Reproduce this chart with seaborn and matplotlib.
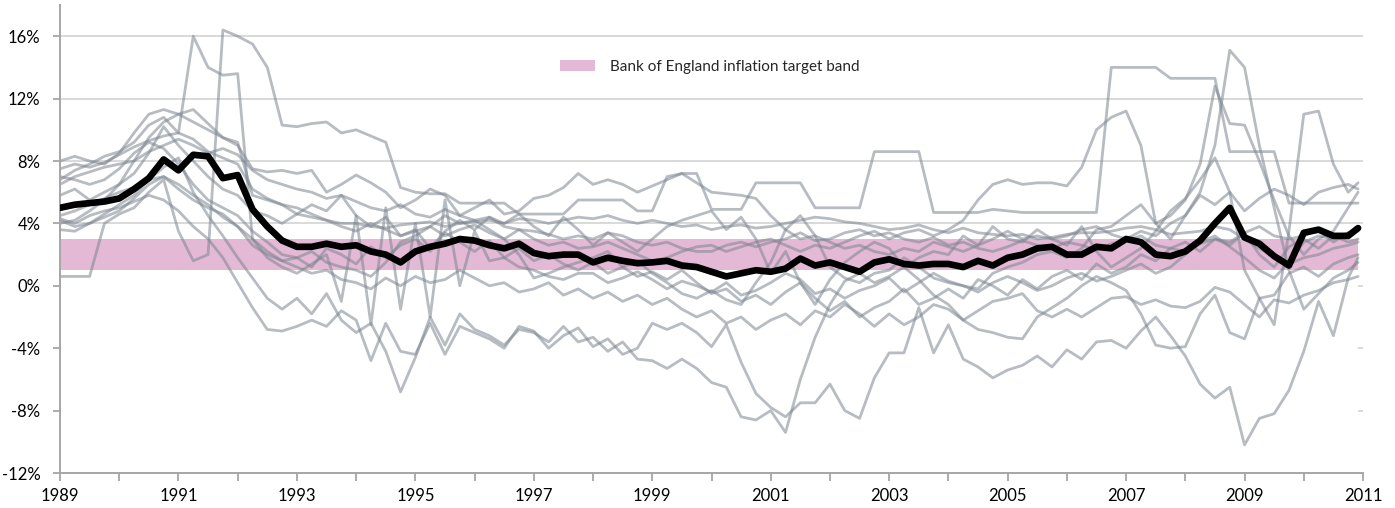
import numpy as np
import pandas as pd
import matplotlib
matplotlib.use("Agg")
import matplotlib.pyplot as plt
import seaborn as sns
from matplotlib.patches import Patch
from matplotlib.ticker import FuncFormatter

# ---- time axis: quarterly observations Jan 1989 .. Oct 2010, plus Dec 2010
dates = pd.date_range("1989-01-01", "2010-10-01", freq="QS").append(pd.DatetimeIndex(["2010-12-01"]))
years = np.asarray(dates.year + (dates.month - 1) / 12.0, dtype=float)

# ---- headline CPI (black line), annual % change
cpi = [5.0, 5.2, 5.3, 5.4, 5.6, 6.2, 6.9, 8.1, 7.4, 8.4, 8.3, 6.9, 7.1, 4.9, 3.8, 2.9,
       2.5, 2.5, 2.7, 2.5, 2.6, 2.2, 2.0, 1.5, 2.2, 2.5, 2.7, 3.0, 2.9, 2.6, 2.4, 2.7,
       2.1, 1.9, 2.0, 2.0, 1.5, 1.8, 1.6, 1.45, 1.5, 1.6, 1.3, 1.2, 0.9, 0.6, 0.8, 1.0,
       0.9, 1.1, 1.75, 1.3, 1.5, 1.2, 0.9, 1.5, 1.7, 1.4, 1.3, 1.4, 1.4, 1.2, 1.6, 1.3,
       1.8, 2.0, 2.4, 2.5, 2.0, 2.0, 2.5, 2.4, 3.0, 2.8, 2.0, 1.9, 2.2, 2.9, 4.0, 5.0,
       3.1, 2.7, 1.9, 1.3, 3.4, 3.6, 3.2, 3.2, 3.7]

# ---- CPI components (grey lines)
education = [0.6, 0.6, 0.6, 4.0, 4.6, 5.0, 6.0, 6.8, 3.5, 1.6, 2.0, 16.4, 16.0, 15.5, 14.0, 10.3,
             10.2, 10.4, 10.5, 9.8, 10.0, 9.6, 9.2, 6.3, 6.0, 5.9, 5.9, 5.3, 5.3, 5.3, 5.3, 4.6,
             4.6, 4.6, 4.6, 5.5, 5.5, 5.5, 5.5, 4.8, 4.8, 7.0, 7.2, 7.2, 4.9, 4.9, 4.9, 6.6,
             6.6, 6.6, 6.6, 5.0, 5.0, 5.0, 5.0, 8.6, 8.6, 8.6, 8.6, 4.7, 4.7, 4.7, 4.7, 4.9,
             4.8, 4.7, 4.7, 4.7, 4.7, 4.7, 4.7, 14.0, 14.0, 14.0, 14.0, 13.3, 13.3, 13.3, 13.3, 8.6,
             8.6, 8.6, 8.6, 5.3, 5.3, 5.3, 5.3, 5.3, 5.3]
misc = [6.8, 7.4, 7.8, 8.3, 8.6, 9.2, 10.3, 10.8, 9.8, 16.0, 14.0, 13.5, 13.6, 3.0, 1.8, 1.2,
        0.8, 1.4, 2.0, -1.0, 4.5, -2.5, 5.0, -1.5, 4.0, -2.0, 5.5, 0.0, 3.5, 1.6, 1.8, 1.2,
        1.0, 0.6, 0.4, 0.8, 0.8, 0.2, 0.5, 0.9, 0.4, -0.2, 0.3, 0.0, -0.4, 0.2, -0.6, -0.3,
        0.2, 0.8, 0.4, -0.5, -0.2, -0.8, -0.3, 0.0, 0.5, -0.4, 0.2, 0.8, 0.3, 0.0, -0.4, 0.2,
        0.6, 0.2, -0.3, 0.0, 0.5, 0.8, 0.3, 0.6, 1.0, 1.4, 0.8, 1.2, 2.0, 2.8, 3.2, 2.5,
        1.8, 1.0, 0.5, 1.5, 2.8, 3.2, 3.0, 3.4, 3.6]
alcohol_tobacco = [4.0, 4.2, 4.8, 5.5, 6.5, 8.0, 9.5, 10.5, 11.0, 10.5, 10.0, 9.5, 9.0, 7.5, 7.3, 7.4,
                   7.2, 7.4, 6.0, 6.5, 7.1, 6.6, 6.0, 5.0, 5.5, 6.2, 5.8, 4.5, 5.0, 5.5, 4.6, 4.8,
                   5.6, 5.8, 6.3, 7.2, 6.5, 6.8, 6.5, 6.0, 6.4, 6.8, 7.2, 6.6, 6.0, 5.9, 5.8, 5.6,
                   4.5, 3.6, 3.0, 3.2, 2.8, 2.4, 2.6, 2.2, 2.0, 2.4, 2.2, 2.8, 2.5, 2.2, 2.6, 3.0,
                   3.5, 3.0, 3.2, 3.0, 3.2, 3.6, 3.8, 3.3, 3.0, 3.5, 3.2, 4.0, 4.5, 5.8, 5.2, 6.0,
                   4.8, 5.6, 6.2, 5.8, 5.2, 6.0, 6.3, 6.5, 6.2]
food = [7.0, 6.8, 6.5, 6.8, 7.5, 8.5, 9.2, 8.8, 7.8, 6.5, 5.5, 5.0, 4.5, 3.5, 2.8, 2.0,
        1.8, 2.2, 1.5, 1.2, 1.0, 0.6, 1.5, 2.8, 3.2, 3.8, 4.5, 4.0, 4.2, 3.6, 3.0, 2.0,
        0.5, 0.8, 1.2, 1.5, 1.8, 2.2, 1.2, 1.6, 0.8, 0.2, -0.5, -0.8, -0.3, -0.9, -1.2, 0.2,
        1.5, 3.6, 4.5, 3.2, 1.2, 0.5, 0.2, 0.8, 1.0, 1.8, 1.2, 0.5, 0.2, 0.0, -0.2, 0.8,
        1.2, 1.5, 2.0, 2.2, 1.8, 2.4, 3.6, 3.8, 4.5, 5.2, 4.0, 4.5, 5.5, 7.8, 12.8, 10.4,
        10.3, 8.0, 5.5, 3.2, 2.0, 3.0, 3.5, 5.0, 6.0]
housing = [8.0, 8.3, 8.0, 7.8, 8.5, 9.8, 11.0, 11.3, 11.0, 11.3, 10.4, 9.5, 9.2, 5.8, 5.5, 5.2,
           5.0, 4.6, 4.2, 3.8, 3.5, 4.0, 3.6, 3.2, 3.5, 3.8, 3.2, 3.6, 3.9, 3.4, 3.0, 3.6,
           3.0, 2.6, 2.8, 2.4, 2.5, 2.8, 2.4, 2.0, 1.6, 1.8, 2.2, 2.5, 2.6, 2.2, 2.5, 2.8,
           3.0, 2.6, 2.2, 2.6, 2.4, 2.8, 3.2, 3.5, 3.0, 3.4, 3.6, 3.2, 3.6, 4.2, 5.5, 6.5,
           6.8, 6.5, 6.6, 6.6, 6.4, 7.6, 10.0, 10.8, 11.2, 9.0, 4.0, 3.0, 4.5, 6.0, 9.0, 15.1,
           14.0, 9.0, 5.0, 1.0, -1.5, -0.5, 0.5, 1.0, 1.5]
transport = [5.8, 6.2, 5.5, 6.0, 6.5, 7.2, 8.5, 10.2, 9.0, 8.0, 7.0, 6.2, 5.8, 4.8, 4.5, 4.0,
             4.6, 5.2, 4.8, 5.8, 4.5, 3.8, 4.4, 3.2, 3.6, 2.4, 3.5, 4.2, 3.6, 4.4, 4.0, 4.6,
             3.8, 3.2, 4.4, 3.6, 2.6, 3.4, 2.8, 2.2, 3.0, 3.8, 4.2, 4.5, 4.8, 3.6, 4.4, 3.0,
             0.8, 2.2, 0.2, -1.2, 0.4, 1.5, 2.2, 2.8, 2.4, 1.2, 1.8, 2.2, 2.0, 3.2, 2.6, 3.8,
             3.0, 2.8, 3.6, 3.0, 2.6, 3.8, 2.2, 1.2, 1.8, 2.4, 3.5, 4.8, 5.6, 6.8, 8.2, 6.0,
             1.0, -0.8, -2.5, 3.5, 11.0, 11.2, 7.8, 6.0, 6.6]
recreation = [4.2, 3.8, 4.0, 4.4, 4.8, 5.6, 6.5, 7.0, 6.2, 5.5, 5.0, 4.6, 3.8, 3.0, 2.2, 1.6,
              1.2, 0.8, 1.0, 0.4, 0.2, -0.2, 0.5, 0.0, 0.6, 0.2, 0.4, 1.0, 0.5, 0.0, 0.2, -0.4,
              -0.2, 0.2, -0.6, -0.2, -0.8, -0.4, -1.0, -0.6, -1.2, -0.8, -1.5, -2.0, -1.6, -2.4, -2.0, -2.8,
              -2.2, -1.8, -2.5, -1.6, -2.0, -1.2, -1.8, -2.6, -1.8, -2.5, -2.0, -1.2, -1.5, -2.2, -1.6, -1.0,
              -0.8, -0.5, -1.6, -2.0, -1.5, -2.0, -1.4, -0.8, -0.7, -1.2, -0.9, -1.3, -1.4, -1.0, -0.1, -0.4,
              -1.2, -2.0, -0.9, -1.1, -0.6, -0.3, 0.2, 0.4, 0.6]
communication = [3.6, 3.5, 4.0, 4.6, 5.2, 5.8, 6.8, 7.6, 8.2, 6.0, 4.5, 3.2, 1.8, 0.5, -0.8, -1.5,
                 -0.8, -1.8, -0.5, -2.2, -3.0, -2.4, -4.2, -6.8, -4.6, -2.0, -3.8, -1.8, -2.8, -3.2, -3.8, -2.8,
                 -3.0, -3.6, -2.6, -3.6, -3.3, -4.2, -3.6, -4.7, -4.8, -5.3, -4.7, -5.3, -6.2, -6.5, -8.4, -8.6,
                 -8.0, -9.4, -6.0, -3.3, -1.2, 0.3, 0.8, 0.2, 0.6, 1.2, 0.4, -0.6, -1.2, -2.2, -2.8, -3.0,
                 -3.3, -3.4, -2.0, -1.4, -0.8, 0.0, 0.6, 0.2, -0.3, -1.8, -3.8, -4.0, -3.9, -1.8, -0.6, -3.0,
                 -3.4, -0.8, -0.6, 0.8, 1.2, 0.6, 1.4, 1.8, 2.0]
clothing = [4.3, 4.0, 4.5, 4.8, 5.0, 5.4, 5.8, 5.5, 4.8, 3.8, 3.0, 1.8, 0.2, -1.4, -2.8, -2.9,
            -2.6, -2.2, -2.6, -1.6, -2.2, -4.8, -2.4, -4.2, -4.4, -2.4, -4.4, -2.6, -3.0, -3.4, -4.0, -2.6,
            -2.9, -4.0, -3.2, -2.7, -3.9, -3.4, -4.4, -4.0, -2.4, -2.8, -2.4, -3.0, -3.9, -2.5, -4.9, -6.9,
            -7.8, -8.4, -7.5, -7.5, -6.3, -8.0, -8.5, -5.9, -4.3, -4.3, -1.4, -4.3, -2.5, -4.7, -5.2, -5.9,
            -5.4, -5.1, -4.5, -5.2, -4.1, -4.7, -3.6, -3.5, -4.0, -2.9, -2.0, -3.2, -4.5, -6.3, -7.2, -6.5,
            -10.2, -8.5, -8.2, -6.7, -4.2, -1.0, -3.2, 0.5, 1.8]
restaurants = [7.5, 7.8, 7.6, 7.9, 8.4, 8.9, 9.3, 9.6, 9.8, 9.4, 8.6, 8.2, 7.8, 6.2, 5.6, 5.2,
               4.6, 4.4, 4.2, 4.0, 4.0, 3.8, 3.7, 3.9, 4.0, 4.1, 3.8, 4.0, 4.1, 4.2, 4.0, 4.3,
               4.2, 4.0, 4.2, 4.4, 4.3, 4.5, 4.2, 4.0, 4.2, 4.0, 3.8, 3.9, 3.6, 3.8, 3.9, 3.7,
               3.8, 4.0, 4.2, 4.4, 4.3, 4.1, 4.0, 3.8, 3.6, 3.7, 3.9, 3.6, 3.4, 3.7, 3.4, 3.3,
               3.2, 3.3, 3.0, 3.1, 3.3, 3.4, 3.4, 3.5, 3.7, 3.8, 3.6, 3.3, 3.4, 3.5, 3.8, 3.6,
               3.0, 2.4, 1.8, 1.4, 1.8, 2.0, 2.4, 2.6, 2.8]
furniture = [4.5, 4.8, 5.2, 5.6, 6.0, 6.3, 6.8, 7.0, 6.5, 5.8, 5.2, 4.4, 3.8, 2.6, 2.0, 1.6,
             1.8, 1.2, 2.4, 2.0, 1.4, 2.5, 1.8, 2.6, 3.0, 2.2, 3.4, 2.8, 2.2, 2.9, 1.8, 2.4,
             1.6, 2.0, 1.4, 1.0, 1.5, 0.8, 1.2, 0.6, 0.9, 0.4, 1.0, 0.2, -0.5, -0.2, -1.0, -0.6,
             -1.2, -0.4, 0.2, -0.8, -1.6, -1.0, -2.0, -1.4, -1.0, -0.2, -1.2, -0.8, -0.2, -0.8, 0.4, 0.0,
             -0.6, 0.4, -0.2, 0.6, 1.0, 0.4, 1.4, 0.8, 1.2, 2.0, 1.6, 2.4, 2.8, 2.2, 3.0, 2.6,
             3.4, 2.0, 1.2, 2.5, 3.0, 2.4, 3.2, 2.8, 3.0]
health = [6.5, 7.0, 7.3, 7.6, 7.8, 8.0, 8.6, 9.0, 9.4, 9.0, 8.5, 8.8, 8.4, 7.4, 6.8, 6.5,
          6.2, 6.0, 5.6, 5.8, 5.4, 5.0, 4.8, 5.2, 4.6, 4.4, 4.9, 4.5, 4.2, 4.4, 3.8, 3.6,
          3.5, 3.3, 3.0, 3.2, 3.0, 3.4, 3.2, 2.8, 2.6, 2.8, 2.4, 2.2, 2.2, 2.6, 2.8, 2.5,
          2.8, 3.0, 3.4, 2.9, 3.0, 3.4, 3.6, 3.2, 3.4, 3.0, 2.8, 3.1, 2.6, 2.8, 2.4, 2.2,
          2.5, 2.9, 2.6, 2.4, 2.8, 2.6, 2.3, 2.7, 2.9, 3.2, 2.6, 2.4, 2.2, 2.7, 3.0, 2.8,
          3.4, 3.8, 3.2, 3.0, 3.2, 3.6, 2.8, 3.4, 3.5]

component_names = ["Education", "Miscellaneous", "Alcohol & tobacco", "Food", "Housing",
                   "Transport", "Recreation", "Communication", "Clothing", "Restaurants",
                   "Furniture", "Health"]
component_values = [education, misc, alcohol_tobacco, food, housing, transport, recreation,
                    communication, clothing, restaurants, furniture, health]

target_low, target_high = 1.0, 3.0
legend_label = "Bank of England inflation target band"

long = pd.concat([pd.DataFrame({"year": years, "value": v, "series": n})
                  for n, v in zip(component_names, component_values)], ignore_index=True)
headline = pd.DataFrame({"year": years, "value": cpi})

# ---- styling
sns.set_theme(style="white")
plt.rcParams["font.family"] = ["Lato", "DejaVu Sans"]

GREY = "#7d8591"
PINK = "#e3b9d5"
AXIS = "#a6a6a6"

fig = plt.figure(figsize=(13.95, 5.08), dpi=100)
ax = fig.add_axes([60 / 1395, 35 / 508, 1303 / 1395, 468 / 508])
ax.set_xlim(1989, 2011)
ax.set_ylim(-12, 18)

ax.set_axisbelow(True)
ax.set_yticks(np.arange(-12, 17, 4))
ax.yaxis.grid(True, color="#d9d9d9", linewidth=1.4)
ax.xaxis.grid(False)

# white area below the band (hides gridlines as in the original), then the band
ax.fill_between([years[0], years[-1]], -12, target_low, color="white", lw=0, zorder=0.6)
ax.fill_between([years[0], years[-1]], target_low, target_high, color=PINK, lw=0, zorder=0.7)

sns.lineplot(data=long, x="year", y="value", units="series", estimator=None,
             color=GREY, alpha=0.55, linewidth=2.0, ax=ax, legend=False, zorder=2)
sns.lineplot(data=headline, x="year", y="value", color="black", linewidth=4.8,
             ax=ax, legend=False, zorder=3)
for ln in ax.lines:
    ln.set_solid_joinstyle("round")

# axes / ticks
for s in ["top", "right"]:
    ax.spines[s].set_visible(False)
for s in ["left", "bottom"]:
    ax.spines[s].set_color(AXIS)
    ax.spines[s].set_linewidth(1.4)

ax.set_xticks(np.arange(1989, 2012, 2))
ax.set_xticks(np.arange(1989, 2012, 1), minor=True)
ax.xaxis.set_major_formatter(FuncFormatter(lambda v, p: f"{int(round(v))}"))
ax.yaxis.set_major_formatter(FuncFormatter(lambda v, p: f"{int(round(v))}%"))
ax.tick_params(axis="x", which="both", bottom=True, direction="out", length=6,
               width=1.3, color=AXIS, labelsize=12, pad=5, labelcolor="black")
ax.tick_params(axis="y", which="major", left=True, direction="out", length=5,
               width=1.3, color=AXIS, labelsize=12, pad=9, labelcolor="black")
ax.set_xlabel("")
ax.set_ylabel("")

ax.legend(handles=[Patch(facecolor=PINK, edgecolor="none", label=legend_label)],
          loc="center left", bbox_to_anchor=((560 - 60) / 1303, (473 - 67) / 468),
          frameon=False, fontsize=11, handlelength=2.3, handleheight=0.75,
          handletextpad=1.0, borderpad=0, borderaxespad=0)

fig.savefig("out.png", dpi=100)
